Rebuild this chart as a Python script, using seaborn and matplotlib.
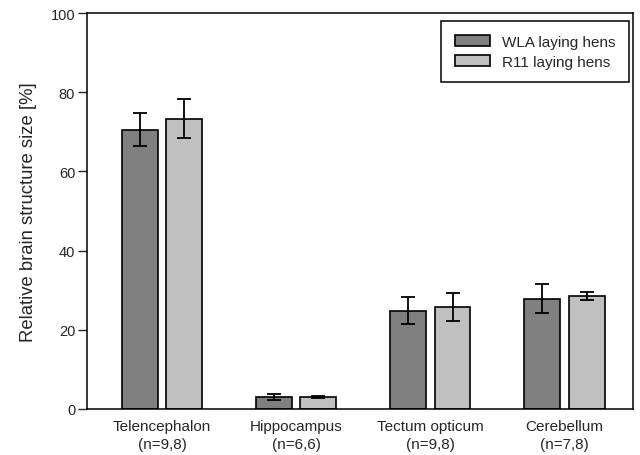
"""
Relative brain structure size of WLA vs R11 laying hens.
Grouped bar chart with error bars (mean +/- SD).
"""

import pandas as pd
import matplotlib
matplotlib.use("Agg")
import matplotlib.pyplot as plt
import seaborn as sns

# data
structures = ["Telencephalon\n(n=9,8)", "Hippocampus\n(n=6,6)",
              "Tectum opticum\n(n=9,8)", "Cerebellum\n(n=7,8)"]
groups = ["WLA laying hens", "R11 laying hens"]
wla_mean = [70.6, 3.0, 24.8, 27.9]
wla_err = [4.2, 0.8, 3.4, 3.7]
r11_mean = [73.3, 3.0, 25.8, 28.6]
r11_err = [4.9, 0.3, 3.6, 1.0]
y_ticks = [0, 20, 40, 60, 80, 100]


def main():
    df = pd.DataFrame({
        "Structure": structures * 2,
        "Group": [groups[0]] * 4 + [groups[1]] * 4,
        "Size": wla_mean + r11_mean,
    })
    errors = {groups[0]: wla_err, groups[1]: r11_err}

    sns.set_style("ticks")
    plt.rcParams["font.family"] = ["Liberation Sans", "DejaVu Sans"]

    fig = plt.figure(figsize=(6.4, 4.56), dpi=100)
    ax = fig.add_axes([0.136, 0.101, 0.853, 0.868])

    sns.barplot(data=df, x="Structure", y="Size", hue="Group",
                palette=["#808080", "#c0c0c0"], edgecolor="black",
                linewidth=1.2, width=0.66, gap=0.19, errorbar=None,
                saturation=1, ax=ax)

    # error bars at the centre of each bar drawn by seaborn
    for container, grp in zip(ax.containers, groups):
        xs = [p.get_x() + p.get_width() / 2 for p in container.patches]
        ys = [p.get_height() for p in container.patches]
        ax.errorbar(xs, ys, yerr=errors[grp], fmt="none", ecolor="black",
                    elinewidth=1.3, capsize=4.7, capthick=1.3, zorder=5)

    ax.set_xlim(-0.56, 3.51)
    ax.set_ylim(0, 100)
    ax.set_yticks(y_ticks)
    ax.set_xlabel("")
    ax.set_ylabel("Relative brain structure size [%]", fontsize=13.3, labelpad=10)

    ax.tick_params(axis="x", length=0, pad=7, labelsize=11)
    for lbl in ax.get_xticklabels():
        lbl.set_linespacing(1.35)
    ax.tick_params(axis="y", length=6.5, width=1, pad=2, labelsize=10.5,
                   direction="out")
    for sp in ax.spines.values():
        sp.set_visible(True)
        sp.set_color("black")
        sp.set_linewidth(1.1)

    leg = ax.legend(loc="upper right", bbox_to_anchor=(0.993, 0.98),
                    fontsize=11, frameon=True, fancybox=False,
                    handlelength=2.3, handleheight=0.7, borderpad=0.9,
                    labelspacing=0.38, borderaxespad=0)
    leg.get_frame().set_edgecolor("black")
    leg.get_frame().set_linewidth(1.1)
    leg.get_frame().set_alpha(1)

    fig.savefig("out.png", dpi=100)


if __name__ == "__main__":
    main()
